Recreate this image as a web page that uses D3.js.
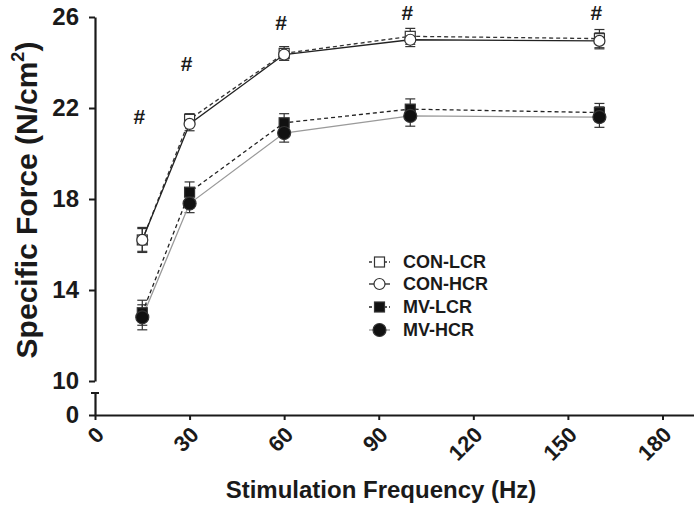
<!DOCTYPE html>
<html><head><meta charset="utf-8">
<script src="https://cdn.jsdelivr.net/npm/d3@7"></script>
<style>
body{margin:0;background:#fff;}
svg{display:block;font-family:"Liberation Sans",Arial,sans-serif;}
</style></head>
<body>
<svg id="chart" width="694" height="506"></svg>
<script>
const freqs = [15, 30, 60, 100, 160];
const conLCR = [16.2, 21.5, 24.4, 25.15, 25.05];
const conHCR = [16.2, 21.3, 24.35, 25.0, 24.95];
const mvLCR = [13.0, 18.3, 21.35, 21.95, 21.8];
const mvHCR = [12.8, 17.8, 20.9, 21.65, 21.6];
const conLCRerr = [0.55, 0.25, 0.3, 0.35, 0.4];
const conHCRerr = [0.5, 0.3, 0.25, 0.3, 0.35];
const mvLCRerr = [0.55, 0.45, 0.4, 0.45, 0.4];
const mvHCRerr = [0.55, 0.4, 0.4, 0.45, 0.45];
const seriesNames = ["CON-LCR", "CON-HCR", "MV-LCR", "MV-HCR"];
const xTicks = [0, 30, 60, 90, 120, 150, 180];
const yTicks = [10, 14, 18, 22, 26];
const hashFreqs = [15, 30, 60, 100, 160];
const hashVals = [21.65, 24.0, 25.8, 26.2, 26.2];

const svg = d3.select("#chart");
const x = d3.scaleLinear().domain([0, 190]).range([95, 694]);
const yU = d3.scaleLinear().domain([10, 26]).range([381, 17]);
const yL = d3.scaleLinear().domain([0, 1]).range([415, 393]);
const ink = "#1a1a1a";

const series = [
  {name: seriesNames[0], vals: conLCR, err: conLCRerr, dash: "4,3", lc: "#333", shape: "square", fill: "#fff"},
  {name: seriesNames[1], vals: conHCR, err: conHCRerr, dash: null, lc: "#222", shape: "circle", fill: "#fff"},
  {name: seriesNames[2], vals: mvLCR, err: mvLCRerr, dash: "4,3", lc: "#222", shape: "square", fill: "#111"},
  {name: seriesNames[3], vals: mvHCR, err: mvHCRerr, dash: null, lc: "#9a9a9a", shape: "circle", fill: "#111"}
];

// Y axis upper
const gyU = svg.append("g").attr("transform", "translate(95,0)")
  .call(d3.axisLeft(yU).tickValues(yTicks).tickFormat(d3.format("d")).tickSize(6).tickSizeOuter(0).tickPadding(10));
// Y axis lower (broken)
const gyL = svg.append("g").attr("transform", "translate(95,0)")
  .call(d3.axisLeft(yL).tickValues([0]).tickFormat(d3.format("d")).tickSize(6).tickSizeOuter(0).tickPadding(10));
svg.append("line").attr("x1", 91).attr("x2", 99).attr("y1", yL(1)).attr("y2", yL(1))
  .attr("stroke", ink).attr("stroke-width", 2);
[gyU, gyL].forEach(g => {
  g.select(".domain").attr("stroke", ink).attr("stroke-width", 2.2);
  g.selectAll(".tick line").attr("stroke", ink).attr("stroke-width", 2);
  g.selectAll(".tick text").attr("fill", ink).attr("font-size", 24).attr("font-weight", "bold")
    .attr("font-family", "Liberation Sans, Arial, sans-serif");
});

// X axis
const gx = svg.append("g").attr("transform", "translate(0,415)")
  .call(d3.axisBottom(x).tickValues(xTicks).tickSize(5).tickSizeOuter(0));
gx.select(".domain").attr("stroke", ink).attr("stroke-width", 2.2);
gx.selectAll(".tick line").attr("stroke", ink).attr("stroke-width", 2);
gx.selectAll(".tick text").attr("fill", ink).attr("font-size", 22).attr("font-weight", "bold")
  .attr("font-family", "Liberation Sans, Arial, sans-serif")
  .attr("text-anchor", "end").attr("y", 0).attr("dy", 0)
  .attr("transform", "translate(10,21) rotate(-45)");

// Titles
svg.append("text").attr("x", 381).attr("y", 498).attr("text-anchor", "middle")
  .attr("font-size", 24).attr("font-weight", "bold").attr("fill", ink)
  .text("Stimulation Frequency (Hz)");
const yt = svg.append("text").attr("transform", "translate(37,200) rotate(-90)")
  .attr("text-anchor", "middle").attr("font-size", 30).attr("font-weight", "bold").attr("fill", ink);
yt.append("tspan").text("Specific Force (N/cm");
yt.append("tspan").attr("font-size", 18).attr("dy", -13).text("2");
yt.append("tspan").attr("dy", 13).text(")");

// Error bars
series.forEach(s => {
  const g = svg.append("g");
  freqs.forEach((f, i) => {
    const cx = x(f), y1 = yU(s.vals[i] + s.err[i]), y2 = yU(s.vals[i] - s.err[i]);
    g.append("line").attr("x1", cx).attr("x2", cx).attr("y1", y1).attr("y2", y2)
      .attr("stroke", "#333").attr("stroke-width", 1.2);
    [y1, y2].forEach(yy => g.append("line").attr("x1", cx - 5).attr("x2", cx + 5)
      .attr("y1", yy).attr("y2", yy).attr("stroke", "#333").attr("stroke-width", 1.2));
  });
});

// Lines
const line = d3.line().x((d, i) => x(freqs[i])).y(d => yU(d));
series.forEach(s => {
  svg.append("path").datum(s.vals).attr("d", line).attr("fill", "none")
    .attr("stroke", s.lc).attr("stroke-width", 1.3)
    .attr("stroke-dasharray", s.dash);
});

function marker(g, s, cx, cy) {
  if (s.shape === "square") {
    const h = 5;
    g.append("rect").attr("x", cx - h).attr("y", cy - h).attr("width", 2 * h).attr("height", 2 * h)
      .attr("fill", s.fill).attr("stroke", "#333").attr("stroke-width", 1.2);
  } else {
    const r = s.fill === "#fff" ? 5.5 : 6.5;
    g.append("circle").attr("cx", cx).attr("cy", cy).attr("r", r)
      .attr("fill", s.fill).attr("stroke", "#333").attr("stroke-width", 1.2);
  }
}

// Markers
series.forEach(s => {
  const g = svg.append("g");
  freqs.forEach((f, i) => marker(g, s, x(f), yU(s.vals[i])));
});

// # markers
svg.append("g").selectAll("text").data(hashFreqs).join("text")
  .attr("x", (d) => x(d) - 3).attr("y", (d, i) => yU(hashVals[i]) + 8)
  .attr("text-anchor", "middle").attr("font-size", 21).attr("font-weight", "bold").attr("fill", ink)
  .text("#");

// Legend
const legY = [262, 284, 307, 330];
series.forEach((s, i) => {
  const g = svg.append("g");
  g.append("line").attr("x1", 369).attr("x2", 390).attr("y1", legY[i]).attr("y2", legY[i])
    .attr("stroke", s.lc).attr("stroke-width", 1.3).attr("stroke-dasharray", s.dash ? "3,2" : null);
  marker(g, s, 379.5, legY[i]);
  g.append("text").attr("x", 403).attr("y", legY[i] + 6).attr("font-size", 18)
    .attr("font-weight", "bold").attr("fill", ink).text(s.name);
});
</script>
</body></html>
